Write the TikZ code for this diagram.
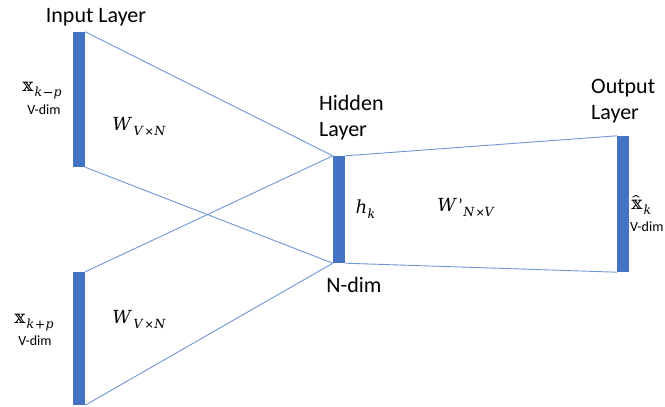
\documentclass[tikz,border=0pt]{standalone}
\usepackage{fontspec}
\usepackage{unicode-math}
\setmainfont{Carlito}
\setmathfont{DejaVu Math TeX Gyre}
\definecolor{barblue}{RGB}{68,114,196}
\definecolor{lineblue}{RGB}{110,150,215}
\usetikzlibrary{positioning}

\begin{document}
\begin{tikzpicture}[x=1pt, y=-1pt,
  bar/.style={fill=barblue, draw=none, minimum width=12pt, inner sep=0pt},
  wire/.style={lineblue, line width=0.9pt},
  lbl/.style={font=\fontsize{22}{26}\selectfont, inner sep=0pt, align=left},
  dimlbl/.style={font=\fontsize{14}{15}\selectfont, inner sep=0pt},
  mth/.style={font=\fontsize{18}{22}\selectfont, inner sep=0pt},
]
\clip (0,0) rectangle (665,407);
% layers
\node[bar, minimum height=135pt] (in1) at (79,99.5) {};
\node[bar, minimum height=133pt] (in2) at (79,338.5) {};
\node[bar, minimum height=107pt] (hid) at (339,209.5) {};
\node[bar, minimum height=136pt] (out) at (623,204) {};
% weights
\draw[wire] (in1.north east) -- (hid.north west);
\draw[wire] (in1.south east) -- (hid.south west);
\draw[wire] (in2.north east) -- (hid.north west);
\draw[wire] (in2.south east) -- (hid.south west);
\draw[wire] (hid.north east) -- (out.north west);
\draw[wire] (hid.south east) -- (out.south west);
% labels
\node[lbl] (intitle) at (96,17) {Input Layer};
\node[lbl, anchor=west] (hidtitle) at (319,118) {Hidden\\Layer};
\node[lbl, anchor=west] (outtitle) at (591,101) {Output\\Layer};
\node[mth] (x1) at (42,91) {$\mathbb{x}_{k-p}$};
\node[dimlbl] (d1) at (44,110) {V-dim};
\node[mth] (x2) at (34,323) {$\mathbb{x}_{k+p}$};
\node[dimlbl] (d2) at (35,341) {V-dim};
\node[mth] (w1) at (140,127) {$W_{V\times N}$};
\node[mth] (w2) at (140,320) {$W_{V\times N}$};
\node[mth] (hk) at (366,209) {$h_k$};
\node[mth] (w3) at (467,208) {$W\mbox{'}_{N\times V}$};
\node[lbl] (ndim) at (354,285) {N-dim};
\node[mth, anchor=west] (xk) at (630,205) {$\hat{\mathbb{x}}_k$};
\node[dimlbl, anchor=west] (d3) at (630,227) {V-dim};
\end{tikzpicture}
\end{document}
